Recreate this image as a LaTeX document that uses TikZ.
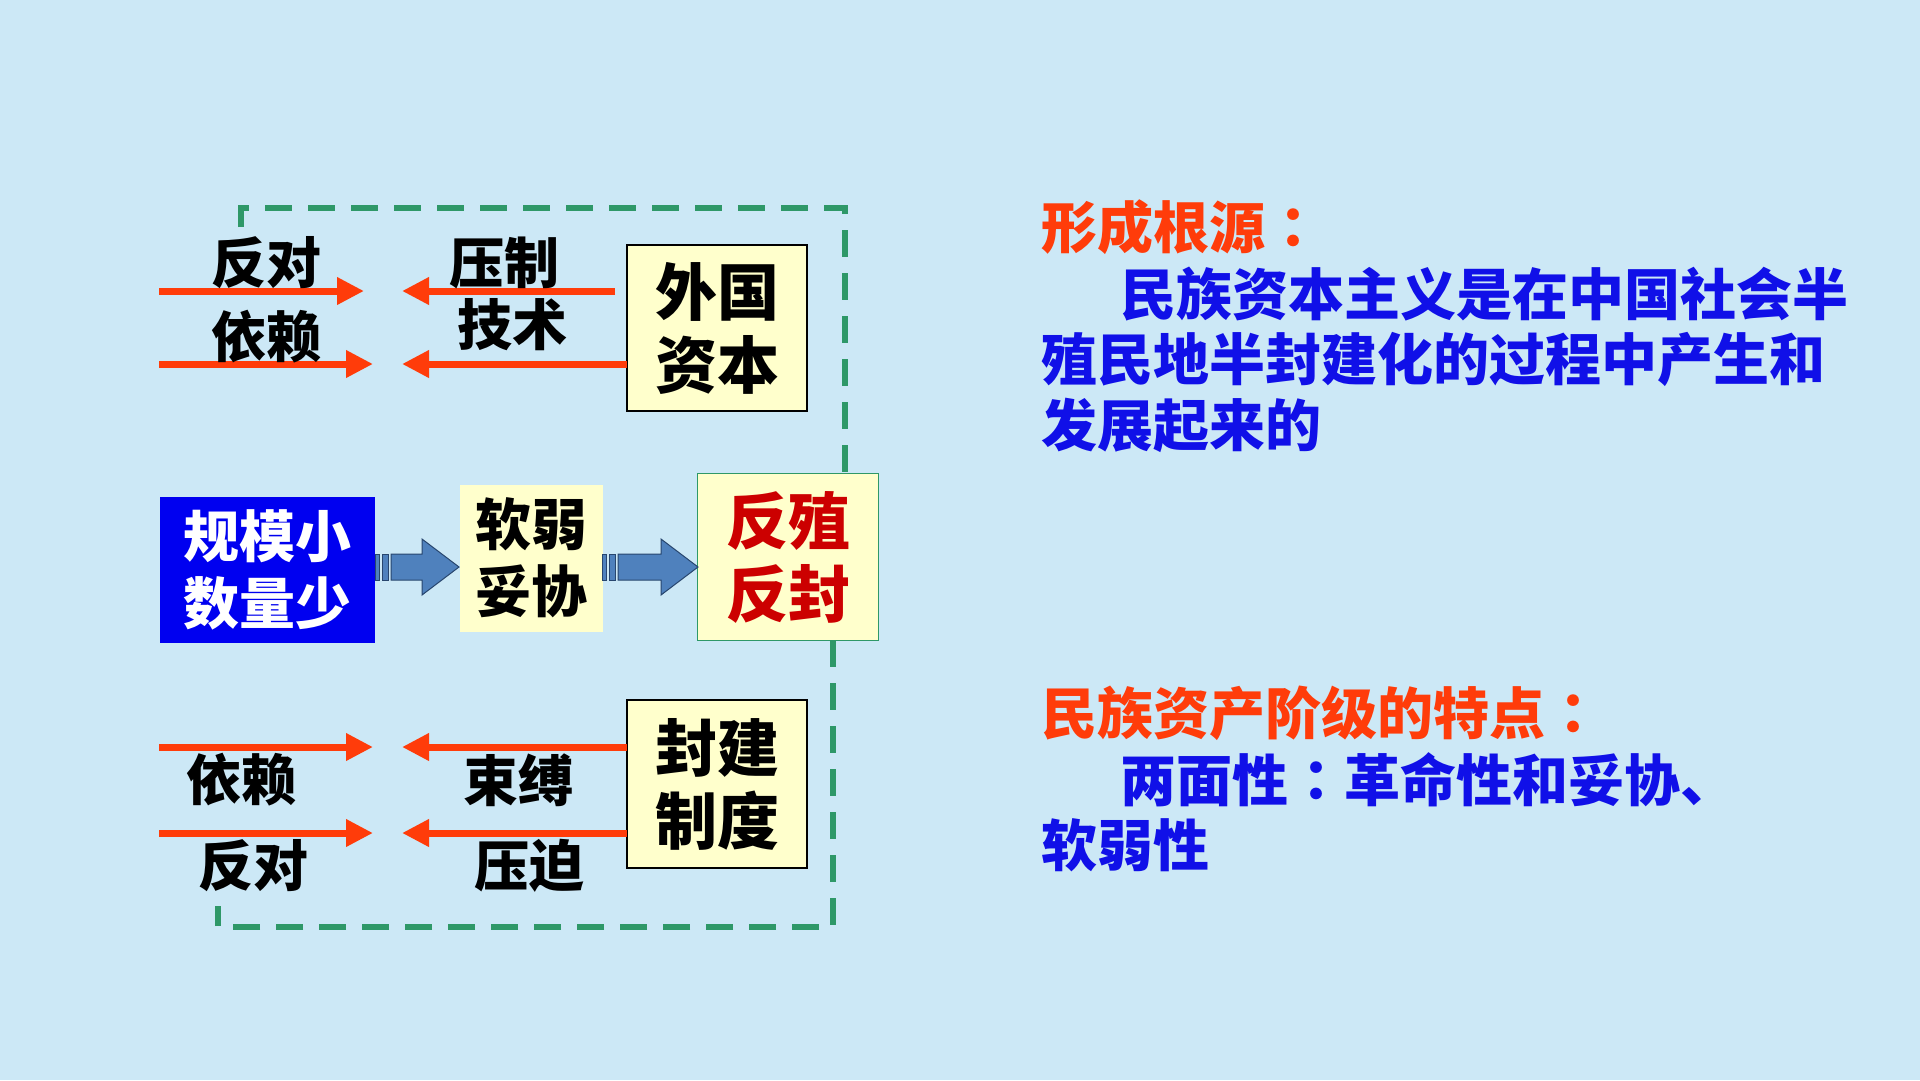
\documentclass[tikz,border=0pt]{standalone}
\usepackage{fontspec}
\setmainfont{Noto Sans CJK SC}[BoldFont={Noto Sans CJK SC Black}]
\newfontfamily\tcf{Noto Sans CJK TC}[BoldFont={Noto Sans CJK TC Black}]
\usetikzlibrary{arrows.meta}
\definecolor{bgc}{RGB}{204,232,246}
\definecolor{boxy}{RGB}{255,255,204}
\definecolor{arred}{RGB}{255,60,10}
\definecolor{ttlred}{RGB}{255,60,10}
\definecolor{txtblue}{RGB}{16,16,232}
\definecolor{boxblue}{RGB}{0,0,240}
\definecolor{dkred}{RGB}{204,0,0}
\definecolor{dgreen}{RGB}{46,152,104}
\definecolor{barfill}{RGB}{79,129,189}
\definecolor{barline}{RGB}{40,70,110}
\tikzset{
  ybox/.style={draw=black, line width=1.5pt, fill=boxy, align=center, inner sep=0pt,
    font=\bfseries\fontsize{62}{73}\selectfont},
  lbl/.style={inner sep=0pt, font=\bfseries\fontsize{55}{60}\selectfont},
  redarr/.style={draw=arred, line width=7pt, -{Triangle[length=27pt,width=26pt]}},
  dashbox/.style={draw=dgreen, line width=6pt, dash pattern=on 27pt off 16pt},
  barrow/.style={fill=barfill, draw=barline, line width=1pt},
  rtxt/.style={anchor=west, inner sep=0pt, font=\bfseries\fontsize{56}{60}\selectfont}
}
\begin{document}
\begin{tikzpicture}[x=1pt,y=-1pt]
\fill[bgc] (0,0) rectangle (1920,1080);
\useasboundingbox (0,0) rectangle (1920,1080);

% dashed frame
\draw[dashbox] (241,227) -- (241,208) -- (845,208) -- (845,473);
\draw[dashbox] (833,640) -- (833,927) -- (218,927) -- (218,906);

% boxes
\node[ybox, minimum width=180pt, minimum height=166pt] (wg) at (717,328) {外国\\资本};
\node[ybox, minimum width=180pt, minimum height=168pt] (fj) at (717,784) {封建\\制度};
\node[fill=boxblue, text=white, align=center, inner sep=0pt, minimum width=215pt, minimum height=146pt,
  font=\bfseries\fontsize{56}{67}\selectfont] (gm) at (267,570) {规模小\\数量少};
\node[fill=boxy, align=center, inner sep=0pt, minimum width=143pt, minimum height=147pt,
  font=\bfseries\fontsize{56}{67}\selectfont] (rr) at (531,558) {软弱\\妥协};
\node[fill=boxy, draw=dgreen, line width=1.5pt, text=dkred, align=center, inner sep=0pt,
  minimum width=181pt, minimum height=167pt,
  font=\bfseries\fontsize{62}{73}\selectfont] (fz) at (788,557) {反殖\\反封};

% block arrows
\filldraw[barrow] (375,554) rectangle (379,580);
\filldraw[barrow] (382,554) rectangle (388,580);
\filldraw[barrow] (391,554) -- (422,554) -- (422,539) -- (459,567) -- (422,595) -- (422,580) -- (391,580) -- cycle;
\filldraw[barrow] (602,554) rectangle (606,580);
\filldraw[barrow] (609,554) rectangle (615,580);
\filldraw[barrow] (618,554) -- (661,554) -- (661,539) -- (698,567) -- (661,595) -- (661,580) -- (618,580) -- cycle;

% red arrows top
\coordinate (a1s) at (159,291); \coordinate (a1e) at (364,291);
\coordinate (b1s) at (615,291); \coordinate (b1e) at (402,291);
\coordinate (a2s) at (159,364); \coordinate (a2e) at (373,364);
\coordinate (b2s) at (627,364); \coordinate (b2e) at (402,364);
\draw[redarr] (a1s) -- (a1e);
\draw[redarr] (b1s) -- (b1e);
\draw[redarr] (a2s) -- (a2e);
\draw[redarr] (b2s) -- (b2e);
% red arrows bottom
\coordinate (a3s) at (159,747); \coordinate (a3e) at (373,747);
\coordinate (b3s) at (627,747); \coordinate (b3e) at (402,747);
\coordinate (a4s) at (159,833); \coordinate (a4e) at (373,833);
\coordinate (b4s) at (627,833); \coordinate (b4e) at (402,833);
\draw[redarr] (a3s) -- (a3e);
\draw[redarr] (b3s) -- (b3e);
\draw[redarr] (a4s) -- (a4e);
\draw[redarr] (b4s) -- (b4e);

% labels
\node[lbl] (l1) at (266,263) {反对};
\node[lbl] (l2) at (504,263) {压制};
\node[lbl] (l3) at (266,337) {依赖};
\node[lbl] (l4) at (512,325) {技术};
\node[lbl] (l5) at (241,780) {依赖};
\node[lbl] (l6) at (518,780) {束缚};
\node[lbl] (l7) at (253,866) {反对};
\node[lbl] (l8) at (529,866) {压迫};

% right text
\node[rtxt, text=ttlred] (t1) at (1041,227) {形成根源{\tcf ：}};
\node[rtxt, text=txtblue] (t2) at (1120,294) {民族资本主义是在中国社会半};
\node[rtxt, text=txtblue] (t3) at (1041,359) {殖民地半封建化的过程中产生和};
\node[rtxt, text=txtblue] (t4) at (1041,425) {发展起来的};
\node[rtxt, text=ttlred] (t5) at (1041,713) {民族资产阶级的特点{\tcf ：}};
\node[rtxt, text=txtblue] (t6) at (1120,780) {两面性{\tcf ：}革命性和妥协、};
\node[rtxt, text=txtblue] (t7) at (1041,845) {软弱性};
\end{tikzpicture}
\end{document}
